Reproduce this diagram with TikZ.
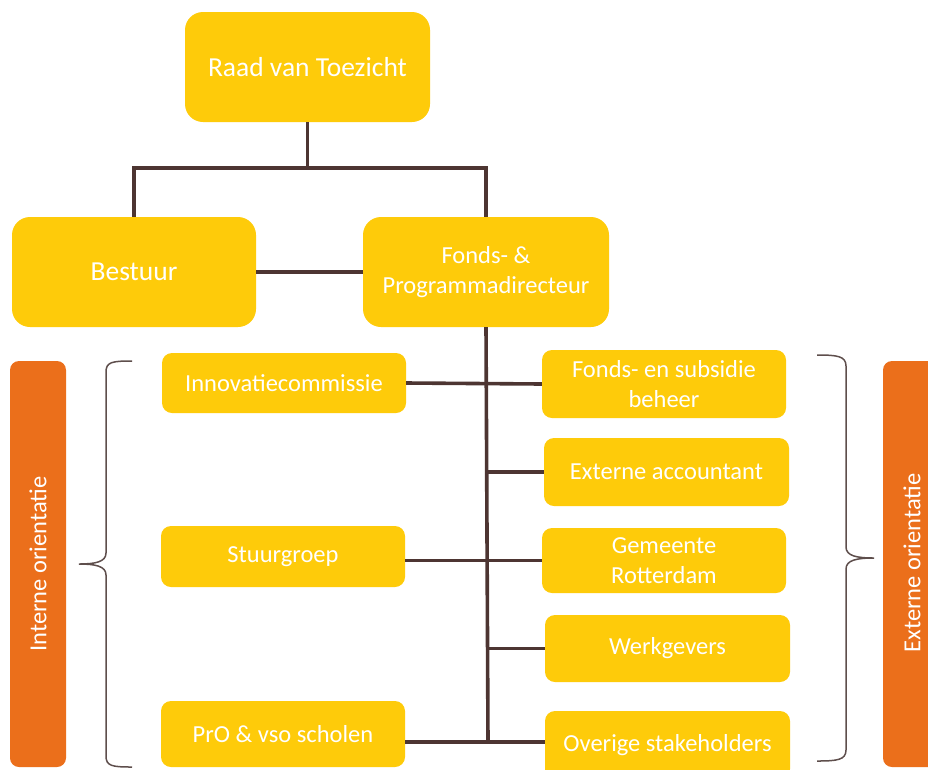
\documentclass[tikz,border=0pt]{standalone}
\usepackage{fontspec}
\setmainfont{Carlito}
\definecolor{boxy}{HTML}{FECB0A}
\definecolor{orng}{HTML}{EB6F1B}
\definecolor{lnc}{HTML}{4D3532}
\definecolor{brc}{HTML}{5E4E4C}
\begin{document}
\begin{tikzpicture}[x=1pt,y=-1pt,
  big/.style={fill=boxy,rounded corners=18pt,text=white,align=center,inner sep=0pt,
    font=\fontsize{27.5}{32}\selectfont},
  small/.style={fill=boxy,rounded corners=10pt,text=white,align=center,inner sep=0pt,
    minimum width=244pt,font=\fontsize{24.5}{29.5}\selectfont},
  bar/.style={fill=orng,rounded corners=9pt,inner sep=0pt,minimum width=56pt,minimum height=406pt},
  bartext/.style={text=white,rotate=90,font=\fontsize{24.5}{29}\selectfont},
  conn/.style={draw=lnc,line width=3.6pt},
  brace/.style={draw=brc,line width=1.5pt}]
\useasboundingbox (0,0) rectangle (928,769);
\clip (0,0) rectangle (928,769);
% top level
\node[big,minimum width=245pt,minimum height=110pt] (raad) at (307.5,67) {Raad van Toezicht};
\node[big,minimum width=244pt,minimum height=110pt] (bestuur) at (134,272) {Bestuur};
\node[big,minimum width=246pt,minimum height=110pt,font=\fontsize{24.5}{29.5}\selectfont] (fpd) at (486,272) {Fonds- \&\\Programmadirecteur};
% left boxes
\node[small,minimum height=60pt] (innov) at (284,383) {Innovatiecommissie};
\node[small,minimum height=61pt] (stuur) at (283,556.5) {Stuurgroep};
\node[small,minimum height=66pt] (pro) at (283,734) {PrO \& vso scholen};
% right boxes
\node[small,minimum height=68pt] (fonds) at (664,384) {Fonds- en subsidie\\beheer};
\node[small,minimum width=245pt,minimum height=68pt] (acc) at (666.5,472) {Externe accountant};
\node[small,minimum height=65pt] (gem) at (664,560.5) {Gemeente\\Rotterdam};
\node[small,minimum width=245pt,minimum height=67pt] (werk) at (667.5,648.5) {Werkgevers};
\node[small,minimum width=245pt,minimum height=68pt] (over) at (667.5,745) {Overige stakeholders};
% orange bars
\node[bar] (lbar) at (38,564) {};
\node[bartext] (ltext) at (lbar.center) {Interne orientatie};
\node[bar] (rbar) at (911,564) {};
\node[bartext] (rtext) at (912,563) {Externe orientatie};
% connectors
\coordinate (jt) at (307.5,168);
\coordinate (tb) at (488,742);
\draw[conn] (raad.south) -- (jt);
\draw[conn] (bestuur.north) |- (jt) -| (fpd.north);
\draw[conn] (bestuur.east) -- (fpd.west);
\draw[conn] (fpd.south) -- (tb);
\draw[conn] (innov.east) -- (fonds.west);
\draw[conn] (gem.west) -- (gem.west -| stuur.east);
\draw[conn] (pro.east |- tb) -- (over.west |- tb);
\draw[conn] (acc.west) -- (acc.west -| tb);
\draw[conn] (werk.west) -- (werk.west -| tb);
% braces
\draw[brace] (132,361) .. controls (112,361) and (106,362) .. (106,372) -- (106,553)
  .. controls (106,562) and (95,564) .. (79,564)
  .. controls (95,564) and (106,566) .. (106,575) -- (106,756)
  .. controls (106,766) and (112,767) .. (132,767);
\draw[brace] (817,355) .. controls (837,355) and (846,356) .. (846,366) -- (846,547)
  .. controls (846,556) and (857,558) .. (874,558)
  .. controls (857,558) and (846,560) .. (846,569) -- (846,750)
  .. controls (846,760) and (837,761) .. (817,761);
\end{tikzpicture}
\end{document}
